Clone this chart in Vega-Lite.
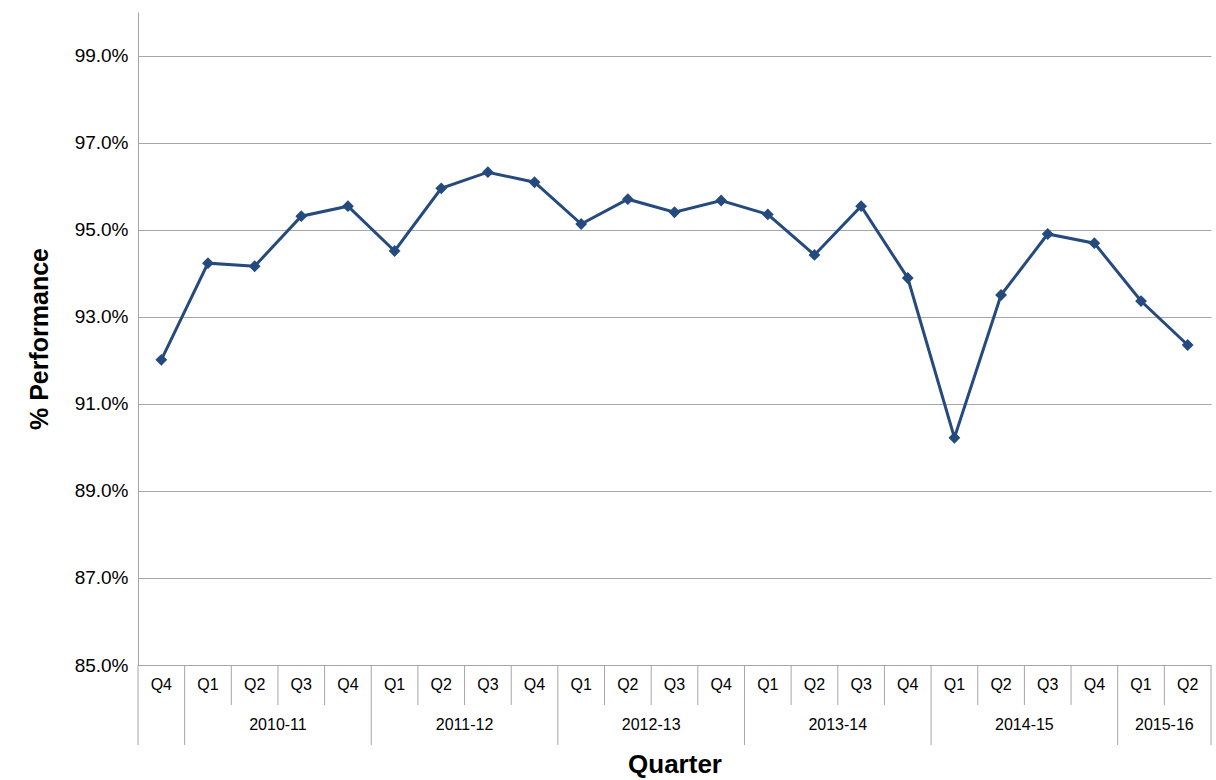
{
  "$schema": "https://vega.github.io/schema/vega-lite/v6.json",
  "padding": {"left": 27, "top": 12, "right": 5, "bottom": 5},
  "background": "white",
  "bounds": "flush",
  "spacing": 0,
  "config": {"view": {"stroke": null}, "font": "Liberation Sans"},
  "datasets": {
    "perf": [
      {"i": 0.5, "v": 92.01}, {"i": 1.5, "v": 94.23}, {"i": 2.5, "v": 94.16}, {"i": 3.5, "v": 95.31},
      {"i": 4.5, "v": 95.54}, {"i": 5.5, "v": 94.51}, {"i": 6.5, "v": 95.95}, {"i": 7.5, "v": 96.32},
      {"i": 8.5, "v": 96.09}, {"i": 9.5, "v": 95.13}, {"i": 10.5, "v": 95.70}, {"i": 11.5, "v": 95.40},
      {"i": 12.5, "v": 95.67}, {"i": 13.5, "v": 95.35}, {"i": 14.5, "v": 94.42}, {"i": 15.5, "v": 95.54},
      {"i": 16.5, "v": 93.89}, {"i": 17.5, "v": 90.22}, {"i": 18.5, "v": 93.50}, {"i": 19.5, "v": 94.90},
      {"i": 20.5, "v": 94.69}, {"i": 21.5, "v": 93.36}, {"i": 22.5, "v": 92.35}
    ],
    "quarters": [
      {"i": 0.5, "q": "Q4"}, {"i": 1.5, "q": "Q1"}, {"i": 2.5, "q": "Q2"}, {"i": 3.5, "q": "Q3"},
      {"i": 4.5, "q": "Q4"}, {"i": 5.5, "q": "Q1"}, {"i": 6.5, "q": "Q2"}, {"i": 7.5, "q": "Q3"},
      {"i": 8.5, "q": "Q4"}, {"i": 9.5, "q": "Q1"}, {"i": 10.5, "q": "Q2"}, {"i": 11.5, "q": "Q3"},
      {"i": 12.5, "q": "Q4"}, {"i": 13.5, "q": "Q1"}, {"i": 14.5, "q": "Q2"}, {"i": 15.5, "q": "Q3"},
      {"i": 16.5, "q": "Q4"}, {"i": 17.5, "q": "Q1"}, {"i": 18.5, "q": "Q2"}, {"i": 19.5, "q": "Q3"},
      {"i": 20.5, "q": "Q4"}, {"i": 21.5, "q": "Q1"}, {"i": 22.5, "q": "Q2"}
    ],
    "years": [
      {"mid": 3, "y": "2010-11"}, {"mid": 7, "y": "2011-12"}, {"mid": 11, "y": "2012-13"},
      {"mid": 15, "y": "2013-14"}, {"mid": 19, "y": "2014-15"}, {"mid": 22, "y": "2015-16"}
    ],
    "seps": [
      {"b": 0, "top": 2, "bot": 0}, {"b": 1, "top": 2, "bot": 0}, {"b": 2, "top": 2, "bot": 1},
      {"b": 3, "top": 2, "bot": 1}, {"b": 4, "top": 2, "bot": 1}, {"b": 5, "top": 2, "bot": 0},
      {"b": 6, "top": 2, "bot": 1}, {"b": 7, "top": 2, "bot": 1}, {"b": 8, "top": 2, "bot": 1},
      {"b": 9, "top": 2, "bot": 0}, {"b": 10, "top": 2, "bot": 1}, {"b": 11, "top": 2, "bot": 1},
      {"b": 12, "top": 2, "bot": 1}, {"b": 13, "top": 2, "bot": 0}, {"b": 14, "top": 2, "bot": 1},
      {"b": 15, "top": 2, "bot": 1}, {"b": 16, "top": 2, "bot": 1}, {"b": 17, "top": 2, "bot": 0},
      {"b": 18, "top": 2, "bot": 1}, {"b": 19, "top": 2, "bot": 1}, {"b": 20, "top": 2, "bot": 1},
      {"b": 21, "top": 2, "bot": 0}, {"b": 22, "top": 2, "bot": 1}, {"b": 23, "top": 2, "bot": 0}
    ]
  },
  "vconcat": [
    {
      "width": 1073,
      "height": 653,
      "data": {"name": "perf"},
      "layer": [
        {
          "mark": {"type": "line", "color": "#254a7e", "strokeWidth": 3},
          "encoding": {}
        },
        {
          "mark": {"type": "point", "shape": "diamond", "filled": true, "color": "#254a7e", "size": 140, "opacity": 1},
          "encoding": {}
        }
      ],
      "encoding": {
        "x": {"field": "i", "type": "quantitative", "scale": {"domain": [0, 23], "nice": false}, "axis": null},
        "y": {
          "field": "v", "type": "quantitative",
          "scale": {"domain": [85, 100], "nice": false, "zero": false},
          "axis": {
            "values": [85, 87, 89, 91, 93, 95, 97, 99],
            "labelExpr": "format(datum.value, '.1f') + '%'",
            "title": "% Performance", "titleFontSize": 25, "titleFontWeight": "bold", "titleColor": "black",
            "titlePadding": 22,
            "labelFontSize": 19, "labelColor": "black", "labelPadding": 10,
            "ticks": false, "grid": true, "gridColor": "#a6a6a6", "gridWidth": 1,
            "domainColor": "#a6a6a6", "domainWidth": 1
          }
        }
      }
    },
    {
      "width": 1073,
      "height": 80,
      "encoding": {
        "x": {"field": "b", "type": "quantitative", "scale": {"domain": [0, 23], "nice": false},
          "axis": {"title": "Quarter", "titleFontSize": 26, "titleFontWeight": "bold", "titleColor": "black",
            "labels": false, "ticks": false, "domain": false, "grid": false, "titlePadding": 6}}
      },
      "layer": [
        {
          "data": {"name": "seps"},
          "mark": {"type": "rule", "color": "#a6a6a6", "strokeWidth": 1},
          "encoding": {
            "y": {"field": "top", "type": "quantitative", "scale": {"domain": [0, 2], "nice": false}, "axis": null},
            "y2": {"field": "bot"}
          }
        },
        {
          "data": {"name": "quarters"},
          "mark": {"type": "text", "fontSize": 16, "color": "black"},
          "encoding": {
            "x": {"field": "i", "type": "quantitative"},
            "y": {"datum": 1.5, "type": "quantitative"},
            "text": {"field": "q"}
          }
        },
        {
          "data": {"name": "years"},
          "mark": {"type": "text", "fontSize": 16, "color": "black"},
          "encoding": {
            "x": {"field": "mid", "type": "quantitative"},
            "y": {"datum": 0.5, "type": "quantitative"},
            "text": {"field": "y"}
          }
        }
      ]
    }
  ]
}
